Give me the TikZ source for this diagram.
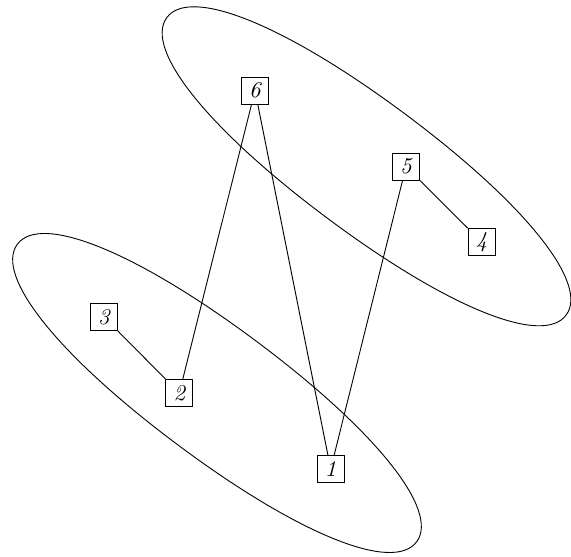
\documentclass[tikz,border=0pt]{standalone}
\tikzset{
  vbox/.style={draw, line width=0.4pt, inner sep=0pt, minimum width=12pt, minimum height=12pt, font=\itshape},
  link/.style={line width=0.4pt},
  group/.style={line width=0.4pt}
}
\newcommand{\grpshape}{(249,0) .. controls (249,39) and (149.4,65) .. (0,65)
  .. controls (-149.4,65) and (-249,39) .. (-249,0)
  .. controls (-249,-39) and (-149.4,-65) .. (0,-65)
  .. controls (149.4,-65) and (249,-39) .. (249,0) -- cycle}
\begin{document}
\begin{tikzpicture}[x=0.444pt,y=-0.444pt]
\useasboundingbox (0,0) rectangle (571,557);
\begin{scope}[shift={(366.5,166.3)}, rotate=-36.7]
\draw[group] \grpshape;
\end{scope}
\begin{scope}[shift={(217,393)}, rotate=-36.7]
\draw[group] \grpshape;
\end{scope}
\node[vbox] (n6) at (255,90.5) {6};
\node[vbox] (n5) at (406,166.7) {5};
\node[vbox] (n4) at (481.7,242) {4};
\node[vbox] (n3) at (104,317) {3};
\node[vbox] (n2) at (179.3,393) {2};
\node[vbox] (n1) at (330.7,469) {1};
\draw[link] (n6) -- (n2);
\draw[link] (n6) -- (n1);
\draw[link] (n5) -- (n1);
\draw[link] (n5) -- (n4);
\draw[link] (n3) -- (n2);
\end{tikzpicture}
\end{document}
